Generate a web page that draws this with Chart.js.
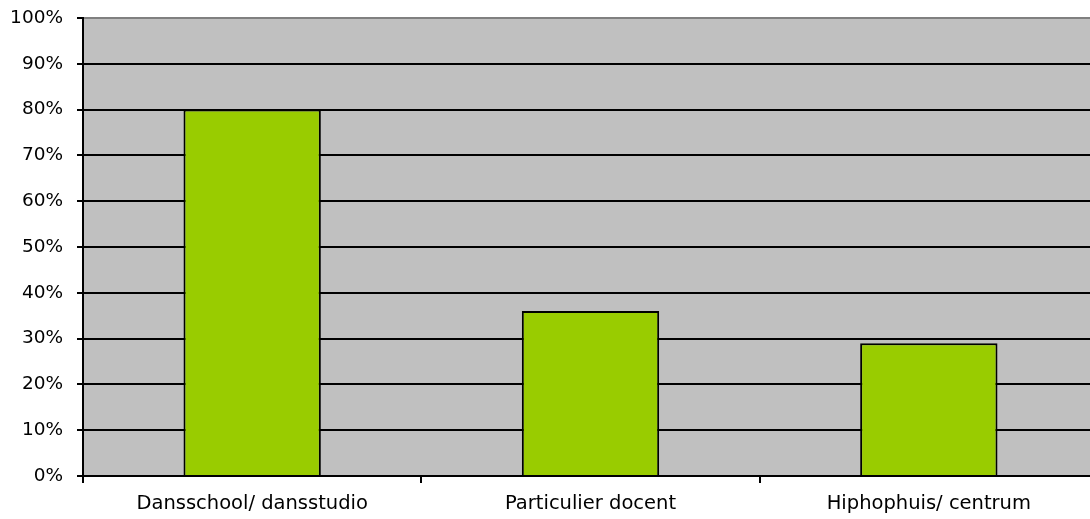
<!DOCTYPE html>
<html>
<head>
<meta charset="utf-8">
<script src="https://cdn.jsdelivr.net/npm/chart.js@4/dist/chart.umd.min.js"></script>
<style>
  html, body { margin: 0; padding: 0; background: #fff; overflow: hidden; }
  #wrap { width: 1099px; height: 519px; }
</style>
</head>
<body>
<div id="wrap"><canvas id="chart"></canvas></div>
<script>
const categories = ['Dansschool/ dansstudio', 'Particulier docent', 'Hiphophuis/ centrum'];
const values = [80, 36, 29];
const yTicks = [0, 10, 20, 30, 40, 50, 60, 70, 80, 90, 100];

const fontFamily = "'DejaVu Sans', sans-serif";

// grey plot background
const plotBg = {
  id: 'plotBg',
  beforeDraw(chart) {
    const { ctx, chartArea } = chart;
    ctx.save();
    ctx.fillStyle = '#c0c0c0';
    ctx.fillRect(chartArea.left, chartArea.top, chartArea.right - chartArea.left, chartArea.bottom - chartArea.top);
    ctx.restore();
  }
};

new Chart(document.getElementById('chart'), {
  type: 'bar',
  data: {
    labels: categories,
    datasets: [{
      data: values,
      backgroundColor: '#99cc00',
      borderColor: '#000',
      borderWidth: 2,
      barPercentage: 1,
      categoryPercentage: 0.406
    }]
  },
  options: {
    responsive: true,
    maintainAspectRatio: false,
    animation: false,
    layout: { padding: { top: 18, right: 1, bottom: 0, left: 0 } },
    plugins: { legend: { display: false }, tooltip: { enabled: false } },
    scales: {
      x: {
        grid: { display: true, drawOnChartArea: false, offset: true, color: '#000', lineWidth: 2, tickLength: 7 },
        border: { color: '#000', width: 2 },
        ticks: { color: '#000', font: { family: fontFamily, size: 19.5 }, padding: 9, maxRotation: 0 },
        afterFit(scale) { scale.height = 43; scale.paddingLeft = 0; scale.paddingRight = 0; }
      },
      y: {
        min: 0,
        max: 100,
        afterBuildTicks(scale) { scale.ticks = yTicks.map(v => ({ value: v })); },
        grid: {
          color: ctx => ctx.tick && ctx.tick.value === 100 ? '#808080' : '#000',
          tickColor: '#000',
          lineWidth: 2,
          tickLength: 6
        },
        border: { color: '#000', width: 2 },
        ticks: {
          color: '#000',
          font: { family: fontFamily, size: 18.5 },
          padding: 14,
          callback: v => v + '%'
        },
        afterFit(scale) { scale.width = 83; scale.paddingTop = 0; scale.paddingBottom = 0; }
      }
    }
  },
  plugins: [plotBg]
});
</script>
</body>
</html>
